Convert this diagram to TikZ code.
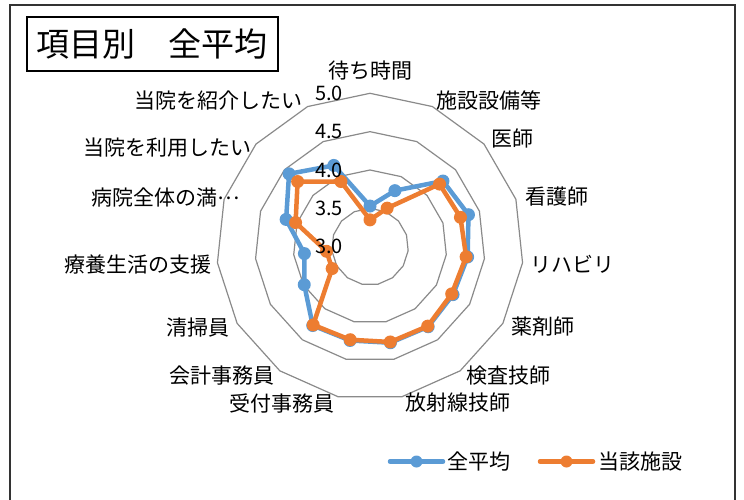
\documentclass[tikz,border=0pt]{standalone}
\usepackage{fontspec}
\setmainfont{Noto Sans CJK JP}
\usetikzlibrary{positioning}
\definecolor{avgblue}{HTML}{5B9BD5}
\definecolor{siteorange}{HTML}{ED7D31}
\definecolor{gridgray}{HTML}{8A8A8A}
\tikzstyle{frame} = [draw=black!80, line width=2pt]
\tikzstyle{titlebox} = [rectangle, draw=black, line width=1.2pt, minimum width=251pt, minimum height=54pt, font=\fontsize{33}{38}\selectfont]
\tikzstyle{gridring} = [draw=gridgray, line width=1.2pt]
\tikzstyle{ticklabel} = [anchor=east, inner sep=0pt, font=\fontsize{20}{24}\selectfont]
\tikzstyle{category} = [inner sep=0pt, font=\fontsize{21}{25}\selectfont]
\tikzstyle{avgline} = [draw=avgblue, line width=4.5pt, line join=round]
\tikzstyle{siteline} = [draw=siteorange, line width=4.5pt, line join=round]
\tikzstyle{avgdot} = [circle, fill=avgblue, inner sep=0pt, minimum size=13pt]
\tikzstyle{sitedot} = [circle, fill=siteorange, inner sep=0pt, minimum size=13pt]
\tikzstyle{legendtext} = [inner sep=0pt, font=\fontsize{21}{25}\selectfont]

\begin{document}
\begin{tikzpicture}[x=1pt, y=1pt]
    \useasboundingbox (-370,-252.3) rectangle (374,246.7);
    \draw [frame] (-360,-262) -- (-360,241.7) -- (365,241.7) -- (365,-262);

    %title
    \node (title) [titlebox] at (-217.5,202.7) {項目別　全平均};

    %rings
    \foreach \r in {1,...,4}
        \draw [gridring] (90:{\r*38.35}) \foreach \k in {1,...,14} {-- (90-24*\k:{\r*38.35})} -- cycle;

    %categories
    \node (wait) [category] at (0.5,175.7) {待ち時間};
    \node (facility) [category, anchor=west] at (66.7,146.7) {施設設備等};
    \node (doctor) [category, anchor=west] at (121.7,108.7) {医師};
    \node (nurse) [category, anchor=west] at (155,49.7) {看護師};
    \node (rehab) [category, anchor=west] at (160,-17.3) {リハビリ};
    \node (pharma) [category, anchor=west] at (141.7,-80.3) {薬剤師};
    \node (lab) [category, anchor=west] at (96.7,-129.3) {検査技師};
    \node (xray) [category, anchor=west] at (35,-155.8) {放射線技師};
    \node (reception) [category, anchor=east] at (-35,-156.8) {受付事務員};
    \node (cashier) [category, anchor=east] at (-95,-129.3) {会計事務員};
    \node (cleaner) [category, anchor=east] at (-140,-80.8) {清掃員};
    \node (support) [category, anchor=east] at (-158.3,-18.3) {療養生活の支援};
    \node (overall) [category, anchor=east] at (-130,48.7) {病院全体の満\raisebox{0.33em}{…}};
    \node (use) [category, anchor=east] at (-118.3,99.2) {当院を利用したい};
    \node (recommend) [category, anchor=east] at (-67,145.7) {当院を紹介したい};

    %data points
    \foreach \v [count=\k from 0] in {3.53,3.80,4.28,4.35,4.28,4.25,4.29,4.28,4.25,4.27,3.99,3.86,4.15,4.42,4.16}
        \coordinate (a\k) at (90-24*\k:{(\v-3)*76.7});
    \foreach \v [count=\k from 0] in {3.35,3.55,4.22,4.24,4.26,4.23,4.28,4.27,4.24,4.26,3.57,3.57,4.02,4.27,3.93}
        \coordinate (s\k) at (90-24*\k:{(\v-3)*76.7});

    %series
    \draw [avgline] (a0) \foreach \k in {1,...,14} {-- (a\k)} -- cycle;
    \foreach \k in {0,...,14}
        \node (am\k) [avgdot] at (a\k) {};
    \draw [siteline] (s0) \foreach \k in {1,...,14} {-- (s\k)} -- cycle;
    \foreach \k in {0,...,14}
        \node (sm\k) [sitedot] at (s\k) {};

    %scale
    \node (t30) [ticklabel] at (-27,0) {3.0};
    \node (t35) [ticklabel] at (-27,38.35) {3.5};
    \node (t40) [ticklabel] at (-27,76.7) {4.0};
    \node (t45) [ticklabel] at (-27,115.05) {4.5};
    \node (t50) [ticklabel] at (-27,153.4) {5.0};

    %legend
    \coordinate (avgA) at (20,-214.8);
    \coordinate (avgB) at (73,-214.8);
    \coordinate (siteA) at (170,-214.8);
    \coordinate (siteB) at (223,-214.8);
    \draw [avgline, line cap=round] (avgA) -- (avgB);
    \node (avgmark) [avgdot, minimum size=12pt] at (46.5,-214.8) {};
    \node (avgtext) [legendtext, right=4pt of avgB] {全平均};
    \draw [siteline, line cap=round] (siteA) -- (siteB);
    \node (sitemark) [sitedot, minimum size=12pt] at (196.5,-214.8) {};
    \node (sitetext) [legendtext, right=5pt of siteB] {当該施設};
\end{tikzpicture}
\end{document}
